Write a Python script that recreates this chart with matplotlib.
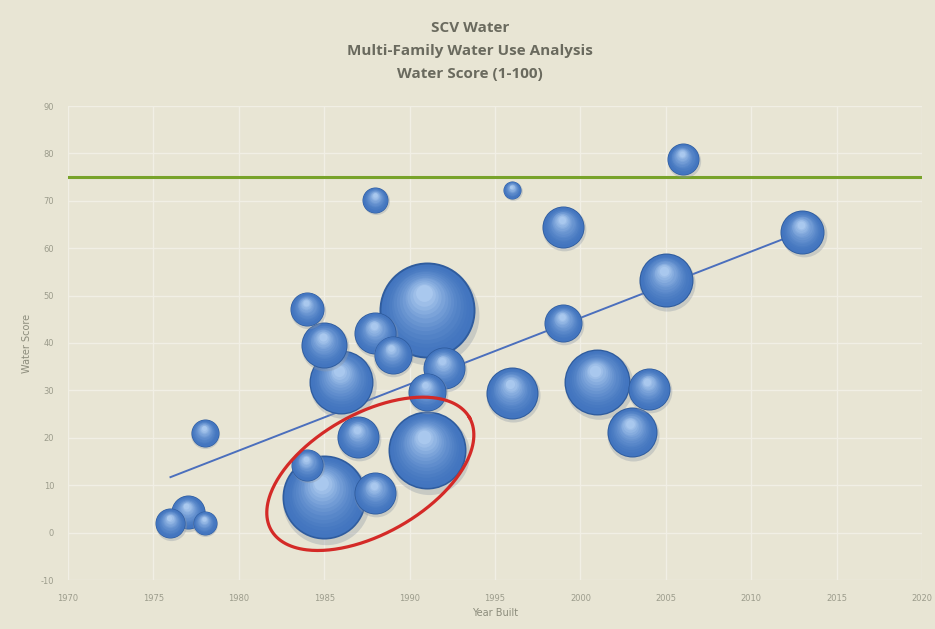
import numpy as np
import matplotlib.pyplot as plt
from matplotlib.colors import to_rgb

# bubble data
years = [1976, 1977, 1978, 1978, 1984, 1985, 1986, 1988, 1989, 1991, 1992, 1991, 1987, 1991,
         1984, 1985, 1988, 1988, 1996, 1999, 2006, 2013, 2005, 1999, 1996, 2001, 2004, 2003]
scores = [2.0, 4.3, 2.0, 21.0, 47.2, 39.6, 31.8, 42.1, 37.5, 47.0, 34.7, 29.7, 20.2, 17.4,
          14.3, 7.5, 8.4, 70.2, 72.3, 64.5, 78.8, 63.4, 53.3, 44.2, 29.5, 31.8, 30.3, 21.2]
sizes = [225, 289, 144, 196, 289, 529, 1024, 441, 361, 2304, 441, 361, 441, 1521,
         256, 1764, 441, 169, 81, 441, 256, 484, 729, 361, 676, 1089, 441, 625]

trend_years = [1976, 2013]
trend_scores = [11.7, 63.5]
target_score = 75

title = "SCV Water\nMulti-Family Water Use Analysis\nWater Score (1-100)"

bg = "#e8e5d4"
fig = plt.figure(figsize=(9.35, 6.29), dpi=100, facecolor=bg)
left, right, bottom, top = 68 / 935, 922 / 935, 49 / 629, 523 / 629
ax = fig.add_axes([left, bottom, right - left, top - bottom])
ax.set_facecolor(bg)
ax.set_xlim(1970, 2020)
ax.set_ylim(-10, 90)
ax.set_xticks(range(1970, 2021, 5))
ax.set_yticks(range(-10, 91, 10))
ax.set_yticklabels(["-10"] + [str(v) for v in range(0, 91, 10)])
ax.grid(True, color="#f1efe5", linewidth=1.0)
ax.set_axisbelow(True)
for s in ax.spines.values():
    s.set_visible(False)
ax.tick_params(length=0, labelsize=6, labelcolor="#9c9c8c", pad=10)
ax.set_xlabel("Year Built", fontsize=7, color="#8c8c7c", labelpad=4)
ax.set_ylabel("Water Score", fontsize=7, color="#8c8c7c", labelpad=6)

# pixel -> data scale
sx = 935 * (right - left) / 50
sy = 629 * (top - bottom) / 100

# target line and trend line
ax.axhline(target_score, color="#78a32a", linewidth=2.2, zorder=2)
ax.plot(trend_years, trend_scores, color="#4b6fbd", linewidth=1.4, zorder=3)

# 3d-looking bubbles, big ones first
c_dark = np.array(to_rgb("#2f5c9e"))
c_mid = np.array(to_rgb("#4275bf"))
c_light = np.array(to_rgb("#a9c8ee"))
order = np.argsort(sizes)[::-1]
z = 4
for i in order:
    x, y = years[i], scores[i]
    r = np.sqrt(sizes[i])
    # soft shadow
    ax.scatter(x + 0.05 * r / sx, y - 0.10 * r / sy, s=(1.44 * r * 1.04) ** 2,
               color="#8e98a6", alpha=0.35, linewidths=0, zorder=z)
    ax.scatter(x, y, s=(1.44 * r) ** 2, color=c_dark, linewidths=0, zorder=z + 0.01)
    n = 14
    for k in range(n):
        f = 1 - k / n * 0.88
        t = k / (n - 1)
        col = c_mid * (1 - t ** 1.6) + c_light * t ** 1.6
        ax.scatter(x - (1 - f) * 0.08 * r / sx, y + (1 - f) * 0.42 * r / sy,
                   s=(1.44 * r * f * 0.96) ** 2, color=col, linewidths=0,
                   zorder=z + 0.02 + k * 0.001)
    z += 1

# red ellipse around the low-score cluster
cx, cy = 1987.7, 12.4
a, b, phi = 114, 60, np.radians(29.5)
t = np.linspace(0, 2 * np.pi, 300)
dx = a * np.cos(t) * np.cos(phi) - b * np.sin(t) * np.sin(phi)
dy = a * np.cos(t) * np.sin(phi) + b * np.sin(t) * np.cos(phi)
ax.plot(cx + dx / sx, cy + dy / sy, color="#d42a27", linewidth=2.3, zorder=200)

fig.text(0.503, 0.966, title, ha="center", va="top", fontsize=11,
         fontweight="bold", color="#6a6a5e", family="Open Sans", linespacing=1.8)

fig.savefig("out.png", dpi=100, facecolor=bg)
